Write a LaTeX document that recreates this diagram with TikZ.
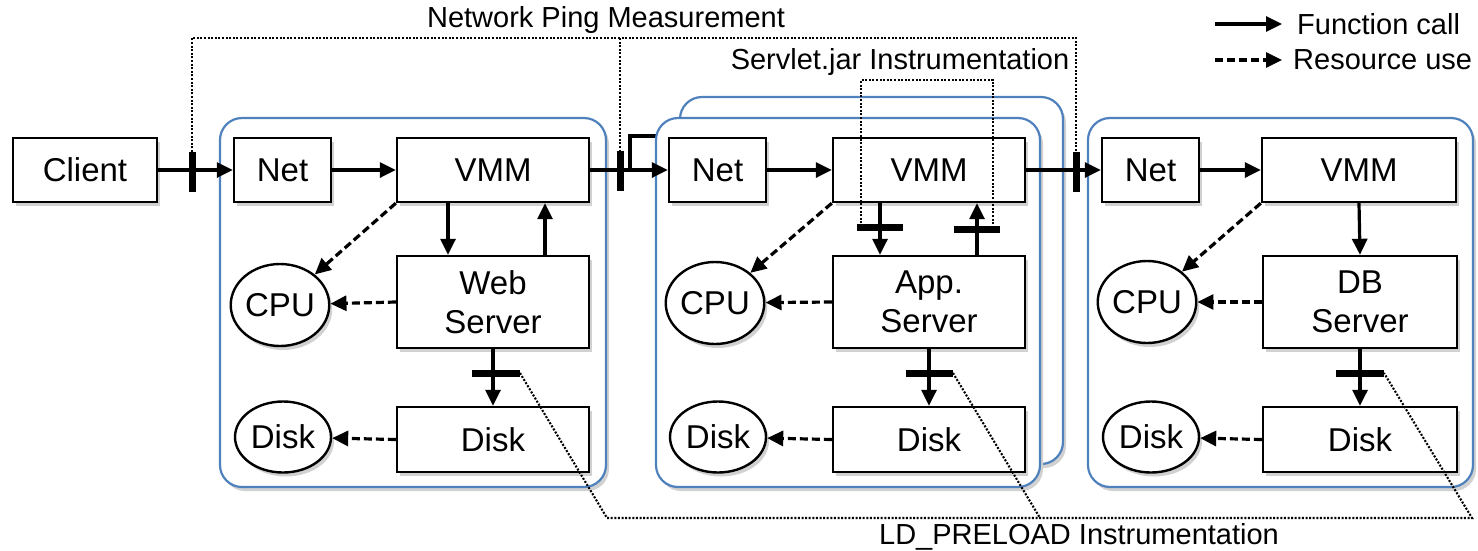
\documentclass[tikz,border=0pt]{standalone}
\usepackage{fontspec}
\setmainfont{Liberation Sans}
\usetikzlibrary{arrows.meta,shapes.geometric,shadows,calc}

\definecolor{hostblue}{RGB}{79,129,189}

\tikzset{
  softshadow/.style={drop shadow={shadow xshift=3pt,shadow yshift=-4pt,fill=black!18,opacity=1}},
  box/.style={draw,line width=2.4pt,fill=white,inner sep=0pt,align=center,
    font=\fontsize{33}{39}\selectfont,softshadow},
  res/.style={ellipse,draw,line width=2.4pt,fill=white,inner sep=0pt,
    font=\fontsize{33}{39}\selectfont,softshadow},
  host/.style={draw=hostblue,line width=2.2pt,rounded corners=22pt,fill=white,softshadow},
  callarrow/.style={line width=3.2pt,-{Triangle[length=16pt,width=15pt]}},
  usearrow/.style={callarrow,dash pattern=on 8pt off 4pt},
  probe/.style={line width=7pt},
  instr/.style={line width=2.1pt,dash pattern=on 2pt off 1.6pt},
  note/.style={font=\fontsize{29}{33}\selectfont},
}

\begin{document}
\begin{tikzpicture}[x=1pt,y=-1pt]
\useasboundingbox (0,0) rectangle (1478,550);

% ---- host frames ----
\node[host,minimum width=386pt,minimum height=369pt] (host1) at (413,302.5) {};
\node[host,minimum width=383pt,minimum height=367pt] (host2b) at (871.5,280.5) {};
\coordinate (br1) at (630,170);
\coordinate (br2) at (630,136);
\coordinate (br3) at (656,136);
\draw[line width=3.2pt] (br1) -- (br2) -- (br3);
\node[host,minimum width=384pt,minimum height=369pt] (host2) at (848,302.5) {};
\node[host,minimum width=385pt,minimum height=369pt] (host3) at (1280.5,302.5) {};

% ---- client ----
\node[box,minimum width=144pt,minimum height=64pt] (client) at (85,170) {Client};

% ---- web tier ----
\node[box,minimum width=97pt,minimum height=64pt] (net1) at (282.5,170) {Net};
\node[box,minimum width=192pt,minimum height=64pt] (vmm1) at (493,170) {VMM};
\node[box,minimum width=192pt,minimum height=92pt] (srv1) at (493,302) {Web\\Server};
\node[box,minimum width=192pt,minimum height=65pt] (dbox1) at (493,439.5) {Disk};
\node[res,minimum width=96pt,minimum height=82pt] (cpu1) at (280,305) {CPU};
\node[res,minimum width=96pt,minimum height=71pt] (disk1) at (283,437) {Disk};

% ---- application tier ----
\node[box,minimum width=97pt,minimum height=64pt] (net2) at (717.5,170) {Net};
\node[box,minimum width=192pt,minimum height=64pt] (vmm2) at (929,170) {VMM};
\node[box,minimum width=192pt,minimum height=92pt] (srv2) at (929,302) {App.\\Server};
\node[box,minimum width=192pt,minimum height=65pt] (dbox2) at (929,439.5) {Disk};
\node[res,minimum width=96pt,minimum height=82pt] (cpu2) at (715,303) {CPU};
\node[res,minimum width=96pt,minimum height=71pt] (disk2) at (718,437) {Disk};

% ---- database tier ----
\node[box,minimum width=97pt,minimum height=64pt] (net3) at (1150.5,170) {Net};
\node[box,minimum width=194pt,minimum height=64pt] (vmm3) at (1359,170) {VMM};
\node[box,minimum width=194pt,minimum height=92pt] (srv3) at (1360,302) {DB\\Server};
\node[box,minimum width=194pt,minimum height=65pt] (dbox3) at (1360,439.5) {Disk};
\node[res,minimum width=96pt,minimum height=82pt] (cpu3) at (1147,302) {CPU};
\node[res,minimum width=96pt,minimum height=71pt] (disk3) at (1151,437) {Disk};

% ---- request path ----
\draw[callarrow] (client.east) -- (net1.west);
\draw[callarrow] (vmm1.east) -- (net2.west);
\draw[callarrow] (vmm2.east) -- (net3.west);
\foreach \n in {1,2,3} {
  \draw[callarrow] (net\n.east) -- (vmm\n.west);
  \draw[usearrow] (vmm\n.south west) -- (cpu\n);
  \draw[usearrow] (srv\n.west) -- (cpu\n);
  \draw[usearrow] (dbox\n.west) -- (disk\n);
  \draw[callarrow] (srv\n.south) -- (dbox\n.north);
}
\draw[callarrow] ([xshift=-45pt]vmm1.south) -- ([xshift=-45pt]srv1.north);
\draw[callarrow] ([xshift=52pt]srv1.north) -- ([xshift=52pt]vmm1.south);
\draw[callarrow] ([xshift=-49pt]vmm2.south) -- ([xshift=-49pt]srv2.north);
\draw[callarrow] ([xshift=48pt]srv2.north) -- ([xshift=48pt]vmm2.south);
\draw[callarrow] (vmm3.south) -- (srv3.north);

% ---- network probes ----
\coordinate (p1t) at (192,152); \coordinate (p1b) at (192,192);
\coordinate (p2t) at (620,151); \coordinate (p2b) at (620,191);
\coordinate (p3t) at (1076,152); \coordinate (p3b) at (1076,192);
\foreach \n in {1,2,3} \draw[probe] (p\n t) -- (p\n b);
\coordinate (pingL) at (192,38);
\coordinate (pingM) at (620,38);
\coordinate (pingR) at (1076,38);
\draw[instr] (p1t) -- (pingL) -- (pingR) -- (p3t);
\draw[instr] (pingM) -- (p2t);
\node[note] (pingtext) at (606,20) {Network Ping Measurement};

% ---- servlet probes ----
\coordinate (s1l) at (857,227); \coordinate (s1r) at (903,227);
\coordinate (s2l) at (954,229); \coordinate (s2r) at (1000,229);
\draw[probe] (s1l) -- (s1r);
\draw[probe] (s2l) -- (s2r);
\coordinate (sjL) at (861,80);
\coordinate (sjR) at (993,80);
\draw[instr] (861,227) -- (sjL) -- (sjR) -- (993,229);
\node[note] (servlettext) at (900,62) {Servlet.jar Instrumentation};

% ---- library probes ----
\coordinate (l1l) at (472,373); \coordinate (l1r) at (520,373);
\coordinate (l2l) at (906,373); \coordinate (l2r) at (953,373);
\coordinate (l3l) at (1336,373); \coordinate (l3r) at (1384,373);
\foreach \n in {1,2,3} \draw[probe] (l\n l) -- (l\n r);
\coordinate (lb1) at (607,518);
\coordinate (lb2) at (1040,518);
\coordinate (lb3) at (1472,518);
\draw[instr] (l1r) -- (lb1) -- (lb3) -- (l3r);
\draw[instr] (l2r) -- (lb2);
\node[note] (ldtext) at (1079,537) {LD\_PRELOAD Instrumentation};

% ---- legend ----
\coordinate (lg1a) at (1215,24); \coordinate (lg1b) at (1282,24);
\coordinate (lg2a) at (1215,60); \coordinate (lg2b) at (1282,60);
\draw[callarrow] (lg1a) -- (lg1b);
\draw[usearrow] (lg2a) -- (lg2b);
\node[note,anchor=west,inner sep=0pt] (lgcall) at (1297,24) {Function call};
\node[note,anchor=west,inner sep=0pt] (lguse) at (1293,60) {Resource use};
\end{tikzpicture}
\end{document}
